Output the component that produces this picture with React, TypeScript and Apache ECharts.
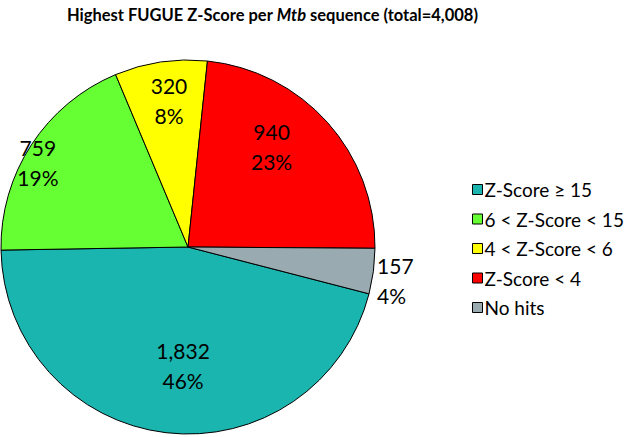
import React, { useEffect, useRef } from "react";
import * as echarts from "echarts";

const categories = ["Z-Score ≥ 15", "6 < Z-Score < 15", "4 < Z-Score < 6", "Z-Score < 4", "No hits"];
const counts = [1832, 759, 320, 940, 157];
const percentLabels = ["46%", "19%", "8%", "23%", "4%"];
const colors = ["#19b5ae", "#66ff33", "#ffff00", "#ff0000", "#99abb0"];

// label placement (style): radial fraction, angular shift (deg), extra pixel offsets, alignment
const labelRadius = [0.632, 0.92, 0.79, 0.7, 1.0];
const labelAngleShift = [-4.4, -3.9, 1, -8.5, 0];
const labelShiftX = [0, 0, 0, 0, 3.6];
const labelShiftY = [0, 0, 0, 0, 9.7];
const labelAlign = ["center", "center", "center", "center", "left"];

const CX = 188;
const CY = 247;
const R = 187;
const FIRST_SLICE_CLOCKWISE_FROM_TOP = 104.5;

export default function App() {
  const ref = useRef<HTMLDivElement>(null);
  useEffect(() => {
    if (!ref.current) return;
    const chart = echarts.init(ref.current, null, { renderer: "svg" });
    const total = counts.reduce((a, b) => a + b, 0);
    const midAngles: number[] = [];
    let acc = FIRST_SLICE_CLOCKWISE_FROM_TOP;
    counts.forEach((c) => {
      const span = (c / total) * 360;
      midAngles.push(acc + span / 2);
      acc += span;
    });
    const fmt = (n: number) => n.toLocaleString("en-US");
    chart.setOption({
      animation: false,
      title: {
        text: "{b|Highest FUGUE Z-Score per }{i|Mtb}{b| sequence (total=4,008)}",
        left: 62,
        top: 1,
        textStyle: {
          rich: {
            b: { fontFamily: "Lato", fontWeight: "bold", fontSize: 16.5, color: "#000" },
            i: { fontFamily: "Lato", fontWeight: "bold", fontStyle: "italic", fontSize: 16.5, color: "#000" },
          },
        },
      },
      legend: {
        orient: "vertical",
        left: 467,
        top: 174,
        itemWidth: 10,
        itemHeight: 10,
        itemGap: 8.5,
        icon: "rect",
        data: categories,
        itemStyle: { borderColor: "#000", borderWidth: 1 },
        textStyle: { fontFamily: "Lato", fontSize: 19, color: "#000", lineHeight: 21, padding: [0, 0, 0, -3] },
      },
      series: [
        {
          type: "pie",
          center: [CX, CY],
          radius: R,
          startAngle: 90 - FIRST_SLICE_CLOCKWISE_FROM_TOP,
          clockwise: true,
          avoidLabelOverlap: false,
          itemStyle: { borderColor: "#000", borderWidth: 1 },
          label: {
            show: true,
            position: "inside",
            fontFamily: "Lato",
            fontSize: 21,
            lineHeight: 30,
            color: "#000",
            formatter: (p: any) => fmt(counts[p.dataIndex]) + "\n" + percentLabels[p.dataIndex],
          },
          labelLine: { show: false },
          labelLayout: (p: any) => {
            const i = p.dataIndex;
            const a = ((midAngles[i] + labelAngleShift[i]) * Math.PI) / 180;
            const f = labelRadius[i];
            return {
              x: CX + R * f * Math.sin(a) + labelShiftX[i],
              y: CY - R * f * Math.cos(a) + labelShiftY[i],
              align: labelAlign[i],
              verticalAlign: "middle",
            };
          },
          emphasis: { disabled: true },
          data: categories.map((name, i) => ({ name, value: counts[i], itemStyle: { color: colors[i] } })),
        },
      ],
    });
    return () => chart.dispose();
  }, []);
  return <div ref={ref} style={{ width: 633, height: 437, position: "absolute", left: 0, top: 0 }} />;
}
